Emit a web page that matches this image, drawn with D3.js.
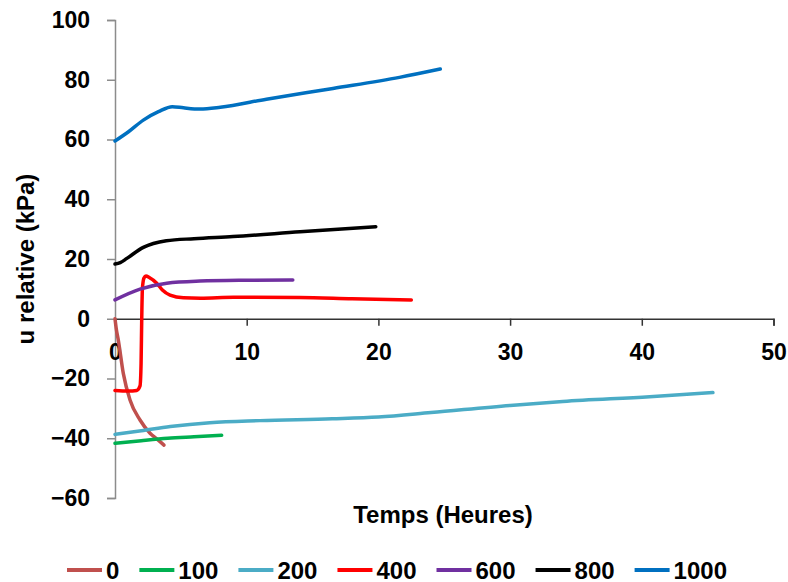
<!DOCTYPE html>
<html><head><meta charset="utf-8">
<script src="https://cdn.jsdelivr.net/npm/d3@7"></script>
<style>
html,body{margin:0;padding:0;background:#fff;}
text{font-family:"Liberation Sans",Arial,sans-serif;font-weight:bold;fill:#000;}
</style></head>
<body>
<svg id="chart" width="788" height="582"></svg>
<script>
// ---- data ----
const seriesNames = ["0","100","200","400","600","800","1000"];
const seriesColors = ["#C0504D","#00B050","#4BACC6","#FF0000","#7030A0","#000000","#0070C0"];

const t0 = [0, 0.1, 0.25, 0.63, 1.14, 1.9, 2.66, 3.2, 3.72];
const v0 = [0, -3.5, -7.1, -18.3, -27.2, -33.9, -38.3, -40.3, -42.3];

const t100 = [0, 2, 4, 6, 8.1];
const v100 = [-41.7, -40.8, -40.0, -39.5, -39.0];

const t200 = [0, 2, 4.2, 7.2, 11, 16.5, 20, 24, 30, 34, 40.6, 45.4];
const v200 = [-38.7, -37.5, -36.1, -34.8, -34.1, -33.5, -32.9, -31.4, -29.0, -27.7, -26.1, -24.7];

const t400 = [0, 1, 1.65, 1.9, 1.98, 2.03, 2.08, 2.2, 2.35, 2.6, 3.17, 3.6, 4.18, 5.19, 6.5, 9, 14, 18, 22.5];
const v400 = [-24, -24.2, -24, -22.5, -15, 0, 10, 13.6, 14.3, 13.8, 11.9, 9.6, 7.9, 7.0, 6.9, 7.2, 7.1, 6.7, 6.3];

const t600 = [0, 1.9, 3.93, 6.45, 10, 13.5];
const v600 = [6.3, 9.9, 11.9, 12.6, 12.9, 13.0];

const t800 = [0, 0.4, 0.9, 2.15, 3.9, 6, 8.96, 14.05, 19.8];
const v800 = [18.3, 18.8, 20.2, 23.9, 26.1, 26.8, 27.5, 29.1, 30.8];

const t1000 = [0, 1, 2.15, 3.3, 4.35, 5.2, 6.45, 8, 11.5, 16.55, 21.6, 24.7];
const v1000 = [59.5, 62.5, 66.5, 69.3, 71.0, 70.6, 70.2, 70.8, 73.5, 77.1, 80.8, 83.6];

const xTicks = [0, 10, 20, 30, 40, 50];
const yTicks = [-60, -40, -20, 0, 20, 40, 60, 80, 100];

const xTitle = "Temps (Heures)";
const yTitle = "u relative (kPa)";

const times = [t0, t100, t200, t400, t600, t800, t1000];
const vals = [v0, v100, v200, v400, v600, v800, v1000];

// ---- drawing ----
const svg = d3.select("#chart");
const x = d3.scaleLinear().domain([0, 50]).range([115, 773.5]);
const y = d3.scaleLinear().domain([-60, 100]).range([498, 20]);

// y axis
const yAxis = svg.append("g").attr("transform", `translate(${x(0)},0)`)
  .call(d3.axisLeft(y).tickValues(yTicks).tickSize(8).tickPadding(17).tickFormat(d3.format("d")));
yAxis.select(".domain").attr("stroke", "#8c8c8c").attr("stroke-width", 1.5);
yAxis.selectAll(".tick line").attr("stroke", "#8c8c8c").attr("stroke-width", 1.5);
yAxis.selectAll(".tick text").attr("font-size", 23).attr("font-family", "Liberation Sans, Arial, sans-serif").attr("font-weight", "bold").attr("fill", "#000");

// x axis at y=0
const xAxis = svg.append("g").attr("transform", `translate(0,${y(0)})`)
  .call(d3.axisBottom(x).tickValues(xTicks).tickSize(7).tickPadding(18).tickFormat(d3.format("d")));
xAxis.select(".domain").attr("stroke", "#333").attr("stroke-width", 1.5);
xAxis.selectAll(".tick line").attr("stroke", "#333").attr("stroke-width", 1.5);
xAxis.selectAll(".tick text").attr("font-size", 23).attr("font-family", "Liberation Sans, Arial, sans-serif").attr("font-weight", "bold").attr("fill", "#000");

// series
const line = d3.line().x(d => x(d[0])).y(d => y(d[1])).curve(d3.curveMonotoneX);
seriesNames.forEach((name, i) => {
  const pts = times[i].map((t, j) => [t, vals[i][j]]);
  svg.append("path").datum(pts)
    .attr("d", line)
    .attr("fill", "none")
    .attr("stroke", seriesColors[i])
    .attr("stroke-width", 3.5)
    .attr("stroke-linejoin", "round")
    .attr("stroke-linecap", "round");
});

// titles
svg.append("text").attr("x", 443).attr("y", 523).attr("text-anchor", "middle")
  .attr("font-size", 24).text(xTitle);
svg.append("text").attr("transform", "translate(34,259) rotate(-90)").attr("text-anchor", "middle")
  .attr("font-size", 24).text(yTitle);

// legend
const legend = svg.append("g");
let lx = 67;
seriesNames.forEach((name, i) => {
  legend.append("line").attr("x1", lx).attr("x2", lx + 35).attr("y1", 570).attr("y2", 570)
    .attr("stroke", seriesColors[i]).attr("stroke-width", 4);
  const t = legend.append("text").attr("x", lx + 39).attr("y", 578.5).attr("font-size", 24).text(name);
  lx += 39 + t.node().getComputedTextLength() + 20;
});
</script>
</body></html>
